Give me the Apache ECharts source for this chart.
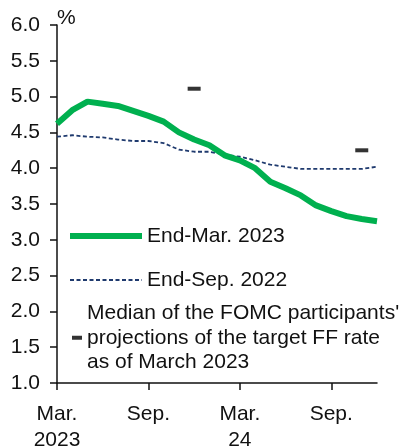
<!DOCTYPE html>
<html>
<head>
<meta charset="utf-8">
<script src="https://cdn.jsdelivr.net/npm/echarts@6/dist/echarts.min.js"></script>
<style>
  html, body { margin: 0; padding: 0; background: #fff; }
  #chart { width: 405px; height: 448px; }
</style>
</head>
<body>
<div id="chart"></div>
<script>
// monthly, Mar. 2023 .. Dec. 2024
const months = [
  "Mar.\n2023", "Apr.", "May", "Jun.", "Jul.", "Aug.", "Sep.", "Oct.", "Nov.", "Dec.",
  "Jan.", "Feb.", "Mar.\n24", "Apr.", "May", "Jun.", "Jul.", "Aug.", "Sep.", "Oct.", "Nov.", "Dec."
];
const endMar2023 = [
  4.62, 4.81, 4.93, 4.90, 4.87, 4.80, 4.73, 4.65, 4.50, 4.40, 4.32,
  4.18, 4.11, 4.00, 3.81, 3.72, 3.62, 3.48, 3.40, 3.33, 3.29, 3.26
];
const endSep2022 = [
  4.44, 4.46, 4.44, 4.43, 4.40, 4.38, 4.38, 4.35, 4.26, 4.23, 4.23,
  4.19, 4.16, 4.11, 4.05, 4.02, 3.99, 3.99, 3.99, 3.99, 3.99, 4.02
];
const fomcMedian = [
  null, null, null, null, null, null, null, null, null, 5.11, null,
  null, null, null, null, null, null, null, null, null, 4.25, null
];
const yTicks = { min: 1, max: 6, step: 0.5 };

const font = "'Liberation Sans', Arial, sans-serif";
const ink = "#111";
const green = "#00b04f";
const navy = "#1f3a6e";
const fomcName = "Median of the FOMC participants'\nprojections of the target FF rate\nas of March 2023";

const chart = echarts.init(document.getElementById("chart"), null, { renderer: "canvas" });

chart.setOption({
  animation: false,
  textStyle: { fontFamily: font },
  grid: { left: 57, right: 28, top: 25, bottom: 65, containLabel: false, outerBoundsMode: "none" },
  xAxis: {
    type: "category",
    data: months,
    boundaryGap: false,
    axisLine: { lineStyle: { color: ink, width: 1.5 } },
    axisTick: { show: true, interval: 5, length: 7, lineStyle: { color: ink, width: 1.5 } },
    axisLabel: {
      interval: 5,
      margin: 18,
      color: ink,
      fontSize: 21,
      lineHeight: 26,
      fontFamily: font
    },
    splitLine: { show: false }
  },
  yAxis: {
    type: "value",
    min: yTicks.min,
    max: yTicks.max,
    interval: yTicks.step,
    name: "%",
    nameLocation: "end",
    nameGap: 7,
    nameTextStyle: { color: ink, fontSize: 21, align: "left", verticalAlign: "middle", fontFamily: font },
    axisLine: { show: true, lineStyle: { color: ink, width: 1.5 } },
    axisTick: { show: true, length: 7, lineStyle: { color: ink, width: 1.5 } },
    axisLabel: {
      margin: 17,
      color: ink,
      fontSize: 21,
      fontFamily: font,
      formatter: v => v.toFixed(1)
    },
    splitLine: { show: false }
  },
  legend: [
    {
      data: [
        { name: "End-Mar. 2023", itemStyle: { opacity: 0 }, lineStyle: { color: green, width: 6 } },
        { name: "End-Sep. 2022", itemStyle: { opacity: 0 }, lineStyle: { color: navy, width: 1.8, type: [4, 2.5] } }
      ],
      orient: "vertical",
      left: 67,
      top: 224,
      padding: 0,
      itemWidth: 72,
      itemHeight: 14,
      itemGap: 20,
      textStyle: { color: ink, fontSize: 21, lineHeight: 24, fontFamily: font }
    },
    {
      data: [{ name: fomcName, icon: "rect" }],
      orient: "vertical",
      left: 72,
      top: 301,
      padding: 0,
      itemWidth: 10,
      itemHeight: 4,
      textStyle: { color: ink, fontSize: 21, lineHeight: 24.5, fontFamily: font }
    }
  ],
  series: [
    {
      name: "End-Sep. 2022",
      type: "line",
      data: endSep2022,
      showSymbol: false,
      symbol: "none",
      color: navy,
      lineStyle: { color: navy, width: 1.8, type: [4, 2.5] },
      z: 2
    },
    {
      name: "End-Mar. 2023",
      type: "line",
      data: endMar2023,
      showSymbol: false,
      symbol: "none",
      color: green,
      lineStyle: { color: green, width: 6 },
      z: 3
    },
    {
      name: fomcName,
      type: "scatter",
      data: fomcMedian,
      symbol: "rect",
      symbolSize: [13, 4],
      color: "#000",
      itemStyle: { color: "#000" },
      z: 4
    }
  ]
});
</script>
</body>
</html>
